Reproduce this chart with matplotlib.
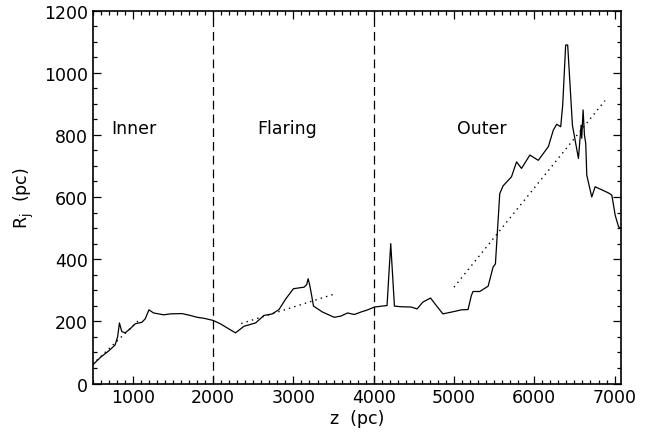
import matplotlib
matplotlib.use("Agg")
import matplotlib.pyplot as plt
from matplotlib.ticker import MultipleLocator

# --- Data ---
z = [500, 600, 700, 779, 810, 833, 850, 862, 904, 966, 1029, 1112, 1154,
     1200, 1258, 1383, 1466, 1612, 1716, 1800, 1883, 2000, 2091, 2200,
     2279, 2383, 2529, 2633, 2737, 2820, 2904, 3000, 3133, 3165, 3183,
     3200, 3216, 3250, 3362, 3508, 3591, 3675, 3758, 3841, 3925, 4008,
     4166, 4212, 4258, 4341, 4466, 4541, 4612, 4708, 4779, 4862, 5008,
     5091, 5175, 5216, 5237, 5320, 5425, 5487, 5516, 5570, 5612, 5716,
     5779, 5841, 5945, 6050, 6175, 6237, 6279, 6329, 6354, 6391, 6416,
     6475, 6550, 6583, 6591, 6608, 6625, 6641, 6654, 6716, 6758, 6925,
     6966, 7008, 7050, 7091]
rj = [60, 85, 105, 124, 150, 195, 178, 167, 163, 176, 192, 197, 208,
      237, 227, 221, 224, 225, 219, 213, 210, 203, 192, 175,
      163, 184, 195, 219, 224, 238, 272, 305, 310, 318, 337,
      320, 299, 249, 230, 213, 217, 227, 222, 230, 237, 246,
      251, 450, 249, 247, 246, 240, 262, 275, 251, 224, 232,
      237, 238, 283, 296, 296, 313, 375, 385, 611, 636, 665,
      713, 692, 735, 718, 762, 815, 834, 826, 896, 1089, 1089,
      831, 724, 831, 789, 880, 799, 772, 670, 600, 633, 613,
      606, 541, 504, 498]

# linear fits per region (end points)
fit_inner_z = [500, 1100]
fit_inner_r = [62, 210]
fit_flare_z = [2350, 3500]
fit_flare_r = [193, 287]
fit_outer_z = [5000, 6880]
fit_outer_r = [310, 910]

boundaries = [2000, 4000]
regions = ["Inner", "Flaring", "Outer"]
region_x = [1016, 2918, 5350]
region_y = [821, 821, 821]

# --- Plot ---
plt.rcParams["font.family"] = "DejaVu Sans"
fig = plt.figure(figsize=(6.47, 4.39), dpi=100)
ax = fig.add_axes([0.1433, 0.1241, 0.8165, 0.8497])

ax.plot(z, rj, color="black", lw=0.9)
for fz, fr in [(fit_inner_z, fit_inner_r), (fit_flare_z, fit_flare_r),
               (fit_outer_z, fit_outer_r)]:
    ax.plot(fz, fr, color="black", lw=1.0, linestyle=(0, (1, 3)))
for b in boundaries:
    ax.axvline(b, color="black", lw=0.9, linestyle=(0, (7, 4)))
for name, tx, ty in zip(regions, region_x, region_y):
    ax.text(tx, ty, name, ha="center", va="center", fontsize=12.5,
            color="black")

ax.set_xlim(500, 7080)
ax.set_ylim(0, 1200)
ax.xaxis.set_major_locator(MultipleLocator(1000))
ax.xaxis.set_minor_locator(MultipleLocator(100))
ax.yaxis.set_major_locator(MultipleLocator(200))
ax.yaxis.set_minor_locator(MultipleLocator(50))
ax.tick_params(which="both", direction="in", top=True, right=True,
               labelsize=12.5, width=0.9)
ax.tick_params(which="major", length=5.5)
ax.tick_params(which="minor", length=3)
for s in ax.spines.values():
    s.set_linewidth(1.2)

ax.set_xlabel("z  (pc)", fontsize=12.5, labelpad=2)
ax.set_ylabel(r"R$_\mathregular{j}$  (pc)", fontsize=12.5, labelpad=6)

fig.savefig("out.png", dpi=100)
